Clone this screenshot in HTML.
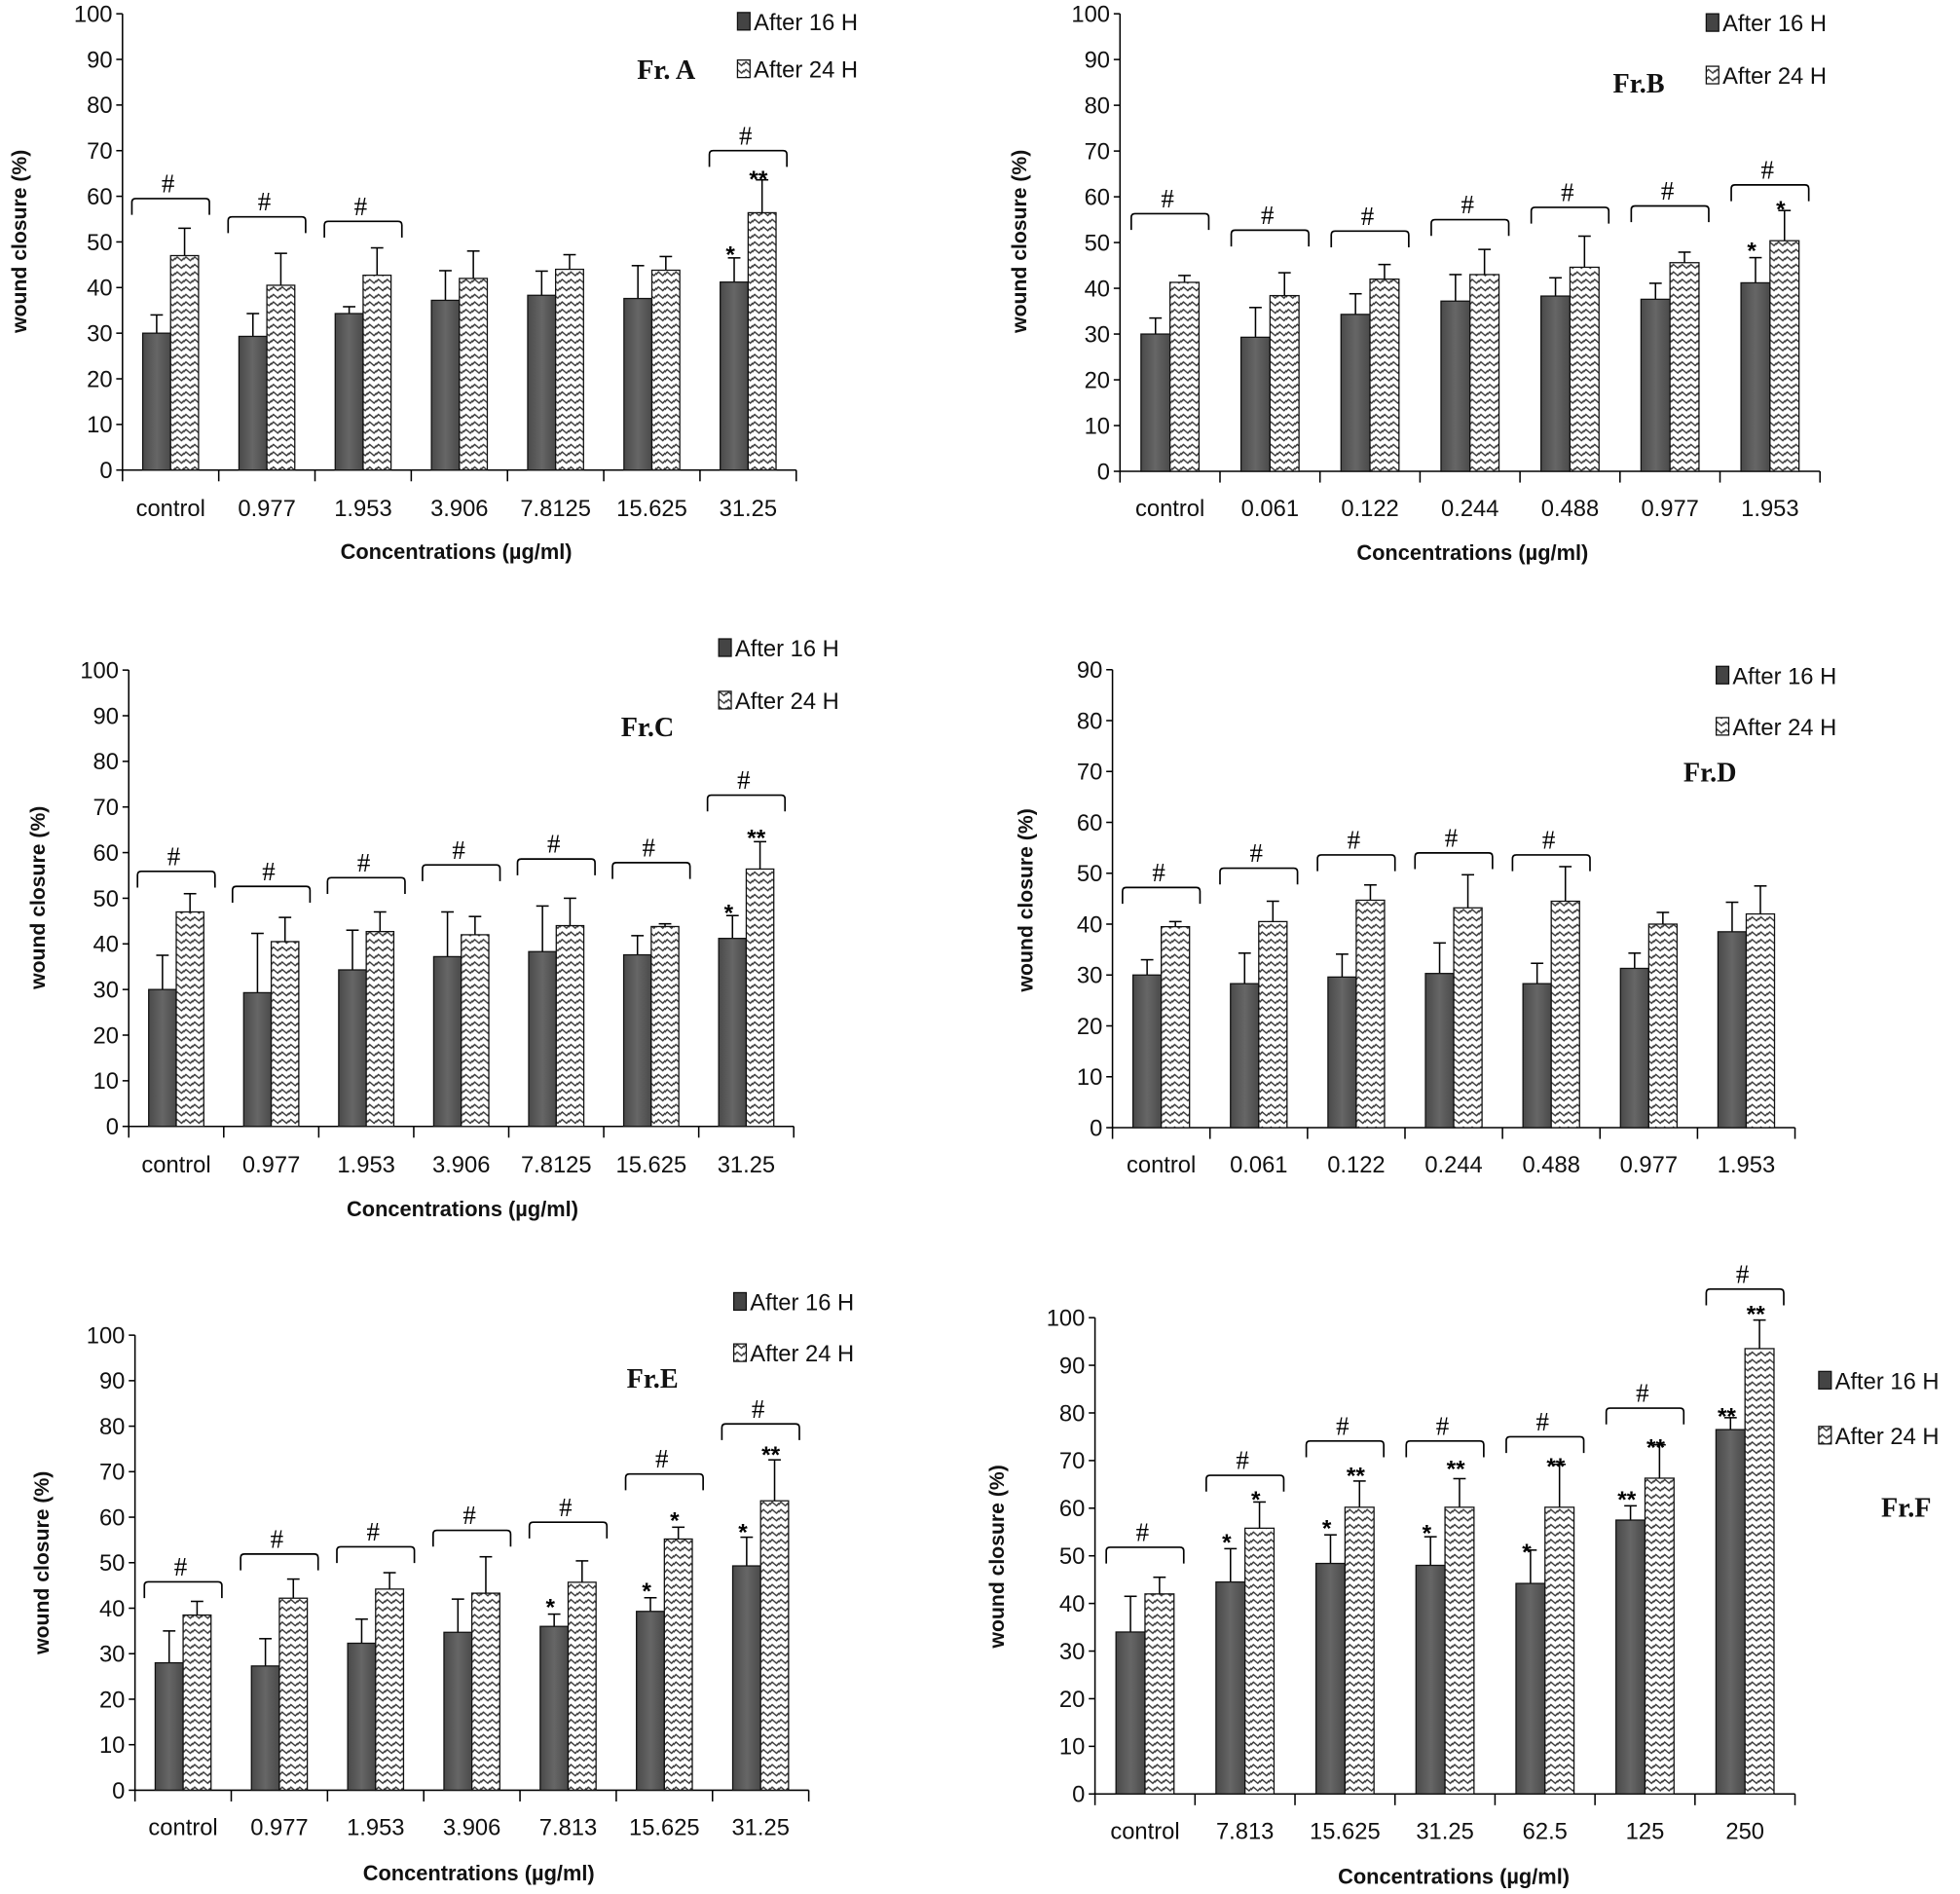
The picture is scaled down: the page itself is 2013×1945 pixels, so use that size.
<!DOCTYPE html>
<html><head><meta charset="utf-8"><style>html,body{margin:0;padding:0;background:#fff}svg{display:block}</style></head>
<body>
<svg id="s" xmlns="http://www.w3.org/2000/svg" width="2013" height="1945" viewBox="0 0 1568 1515">
<defs>
<pattern id="zz" width="7" height="6" patternUnits="userSpaceOnUse">
<rect width="7" height="6" fill="#fff"/>
<path d="M-0.5,4 L1.75,1.5 L5.25,4.5 L7.5,2" fill="none" stroke="#333" stroke-width="1.1"/>
</pattern>
<linearGradient id="dg" x1="0" x2="1" y1="0" y2="0">
<stop offset="0" stop-color="#4a4a4a"/><stop offset="0.5" stop-color="#666"/><stop offset="1" stop-color="#4a4a4a"/>
</linearGradient>
</defs>
<g id="g"></g>
</svg>
<script>
var NS="http://www.w3.org/2000/svg",G=document.getElementById('g');
function el(t,a,txt){var e=document.createElementNS(NS,t);for(var k in a)e.setAttribute(k,a[k]);if(txt!=null)e.textContent=txt;G.appendChild(e);return e;}
var panels=[
{x0:98,y0:376,u:3.65,cw:77,max:100,labs:["control","0.977","1.953","3.906","7.8125","15.625","31.25"],
 a:[30,29.3,34.3,37.2,38.3,37.6,41.2],ae:[4,5,1.5,6.5,5.3,7.2,5.3],
 b:[47,40.5,42.7,42,44,43.8,56.4],be:[6,7,6,6,3.2,3,7.2],
 br:[[0,59.5],[1,55.5],[2,54.5],[6,70]],st:[[6,0,48,"*"],[6,1,64.5,"**"]],
 leg:[590,17,55],title:["Fr. A",533,63],yl:[15,193],xt:[365,447],xly:413},
{x0:896,y0:377,u:3.66,cw:80,max:100,labs:["control","0.061","0.122","0.244","0.488","0.977","1.953"],
 a:[30,29.3,34.3,37.2,38.3,37.6,41.2],ae:[3.5,6.5,4.5,5.8,4,3.5,5.5],
 b:[41.3,38.4,42,43,44.6,45.6,50.4],be:[1.5,5,3.2,5.5,6.8,2.3,6.6],
 br:[[0,56.3],[1,52.7],[2,52.5],[3,55],[4,57.7],[5,58],[6,62.6]],st:[[6,0,49,"*"],[6,1,58,"*"]],
 leg:[1365,18,60],title:["Fr.B",1311,74],yl:[815,193],xt:[1178,448],xly:413},
{x0:103,y0:901,u:3.65,cw:76,max:100,labs:["control","0.977","1.953","3.906","7.8125","15.625","31.25"],
 a:[30,29.3,34.3,37.2,38.3,37.6,41.2],ae:[7.5,13,8.7,9.8,10,4.2,5],
 b:[47,40.5,42.7,42,44,43.8,56.4],be:[4,5.3,4.3,4,6,0.6,6],
 br:[[0,55.9],[1,52.6],[2,54.5],[3,57.3],[4,58.6],[5,57.8],[6,72.6]],st:[[6,0,47.5,"*"],[6,1,64,"**"]],
 leg:[575,518,560],title:["Fr.C",518,589],yl:[30,718],xt:[370,973],xly:938},
{x0:890,y0:902,u:4.07,cw:78,max:90,labs:["control","0.061","0.122","0.244","0.488","0.977","1.953"],
 a:[30,28.3,29.6,30.3,28.3,31.3,38.5],ae:[3,6,4.5,6,4,3,5.8],
 b:[39.5,40.5,44.7,43.2,44.5,40,42],be:[1,4,3,6.5,6.8,2.3,5.5],
 br:[[0,47.2],[1,51],[2,53.6],[3,54],[4,53.6]],st:[],
 leg:[1373,540,581],title:["Fr.D",1368,625],yl:[820,720],xt:null,xly:938},
{x0:108,y0:1432,u:3.64,cw:77,max:100,labs:["control","0.977","1.953","3.906","7.813","15.625","31.25"],
 a:[28,27.3,32.3,34.7,36,39.3,49.3],ae:[7,6,5.3,7.3,2.7,3,6.3],
 b:[38.5,42.2,44.2,43.3,45.7,55.2,63.6],be:[3,4.2,3.6,8,4.7,2.6,9],
 br:[[0,45.8],[1,51.9],[2,53.5],[3,57.1],[4,58.9],[5,69.5],[6,80.5]],
 st:[[4,0,41,"*"],[5,0,44.5,"*"],[5,1,60,"*"],[6,0,57.5,"*"],[6,1,74.5,"**"]],
 leg:[587,1041,1082],title:["Fr.E",522,1110],yl:[33,1250],xt:[383,1504],xly:1468},
{x0:876,y0:1435,u:3.81,cw:80,max:100,labs:["control","7.813","15.625","31.25","62.5","125","250"],
 a:[34,44.5,48.4,48,44.2,57.5,76.5],ae:[7.5,7,6,6,7,3,2.5],
 b:[42,55.8,60.2,60.2,60.2,66.3,93.5],be:[3.5,5.5,5.5,6,9,7,6],
 br:[[0,51.8],[1,66.9],[2,74.1],[3,74.1],[4,75],[5,81],[6,106]],
 st:[[1,0,53.5,"*"],[1,1,62.5,"*"],[2,0,56.5,"*"],[2,1,67.5,"**"],[3,0,55.5,"*"],[3,1,69,"**"],[4,0,51.5,"*"],[4,1,69.5,"**"],[5,0,62.5,"**"],[5,1,73.5,"**"],[6,0,80,"**"],[6,1,101.5,"**"]],
 leg:[1455,1104,1148],title:["Fr.F",1525,1213],yl:[797,1245],xt:[1163,1507],xly:1471}
];
var F='"Liberation Sans",sans-serif';
panels.forEach(function(p){
 var X1=p.x0+7*p.cw, yT=p.y0-p.max*p.u;
 el('line',{x1:p.x0,y1:p.y0,x2:p.x0,y2:yT,stroke:'#000','stroke-width':1.2});
 el('line',{x1:p.x0,y1:p.y0,x2:X1,y2:p.y0,stroke:'#000','stroke-width':1.2});
 for(var v=0;v<=p.max;v+=10){var y=p.y0-v*p.u;
  el('line',{x1:p.x0-5,y1:y,x2:p.x0,y2:y,stroke:'#000','stroke-width':1.2});
  el('text',{x:p.x0-8,y:y+6.5,'text-anchor':'end','font-family':F,'font-size':18.5,fill:'#111'},v);}
 for(var i=0;i<=7;i++){var x=p.x0+i*p.cw;el('line',{x1:x,y1:p.y0,x2:x,y2:p.y0+9,stroke:'#000','stroke-width':1.2});}
 var bw=0.29*p.cw;
 for(var i=0;i<7;i++){var c=p.x0+(i+0.5)*p.cw;
  el('text',{x:c,y:p.xly,'text-anchor':'middle','font-family':F,'font-size':18.5,fill:'#111'},p.labs[i]);
  [[p.a,p.ae,c-bw,'url(#dg)'],[p.b,p.be,c,'url(#zz)']].forEach(function(s){
   var v=s[0][i],e=s[1][i],bx=s[2],top=p.y0-v*p.u,et=p.y0-(v+e)*p.u,cx=bx+bw/2;
   el('line',{x1:cx,y1:top,x2:cx,y2:et,stroke:'#000','stroke-width':1.2});
   el('line',{x1:cx-5,y1:et,x2:cx+5,y2:et,stroke:'#000','stroke-width':1.2});
   el('rect',{x:bx,y:top,width:bw,height:v*p.u,fill:s[3],stroke:'#111','stroke-width':1});
  });
 }
 p.br.forEach(function(b){var c=p.x0+(b[0]+0.5)*p.cw,y=p.y0-b[1]*p.u,l=c-31,r=c+31;
  el('path',{d:'M'+l+','+(y+13)+' L'+l+','+(y+3)+' Q'+l+','+y+' '+(l+3)+','+y+' L'+(r-3)+','+y+' Q'+r+','+y+' '+r+','+(y+3)+' L'+r+','+(y+13),fill:'none',stroke:'#000','stroke-width':1.3});
  el('text',{x:c-2,y:y-5,'text-anchor':'middle','font-family':'"Liberation Serif",serif','font-size':21,fill:'#000'},'#');});
 p.st.forEach(function(s){var c=p.x0+(s[0]+0.5)*p.cw+(s[1]?bw/2:-bw/2)-3,y=p.y0-s[2]*p.u;
  el('text',{x:c,y:y+9,'text-anchor':'middle','font-family':F,'font-size':19,'font-weight':'bold',fill:'#000'},s[3]);});
 var L=p.leg;
 el('rect',{x:L[0],y:L[1]-7,width:10,height:14,fill:'#444',stroke:'#111'});
 el('text',{x:L[0]+13,y:L[1]+7,'font-family':F,'font-size':18.5,fill:'#111'},'After 16 H');
 el('rect',{x:L[0],y:L[2]-7,width:10,height:14,fill:'url(#zz)',stroke:'#111'});
 el('text',{x:L[0]+13,y:L[2]+7,'font-family':F,'font-size':18.5,fill:'#111'},'After 24 H');
 el('text',{x:p.title[1],y:p.title[2],'text-anchor':'middle','font-family':'"Liberation Serif",serif','font-size':22,'font-weight':'bold',fill:'#111'},p.title[0]);
 el('text',{x:0,y:0,transform:'translate('+(p.yl[0]+6)+','+p.yl[1]+') rotate(-90)','text-anchor':'middle','font-family':F,'font-size':16.5,'font-weight':'bold',fill:'#111'},'wound closure (%)');
 if(p.xt)el('text',{x:p.xt[0],y:p.xt[1],'text-anchor':'middle','font-family':F,'font-size':17,'font-weight':'bold',fill:'#111'},'Concentrations (\u00b5g/ml)');
});
</script>
</body></html>
